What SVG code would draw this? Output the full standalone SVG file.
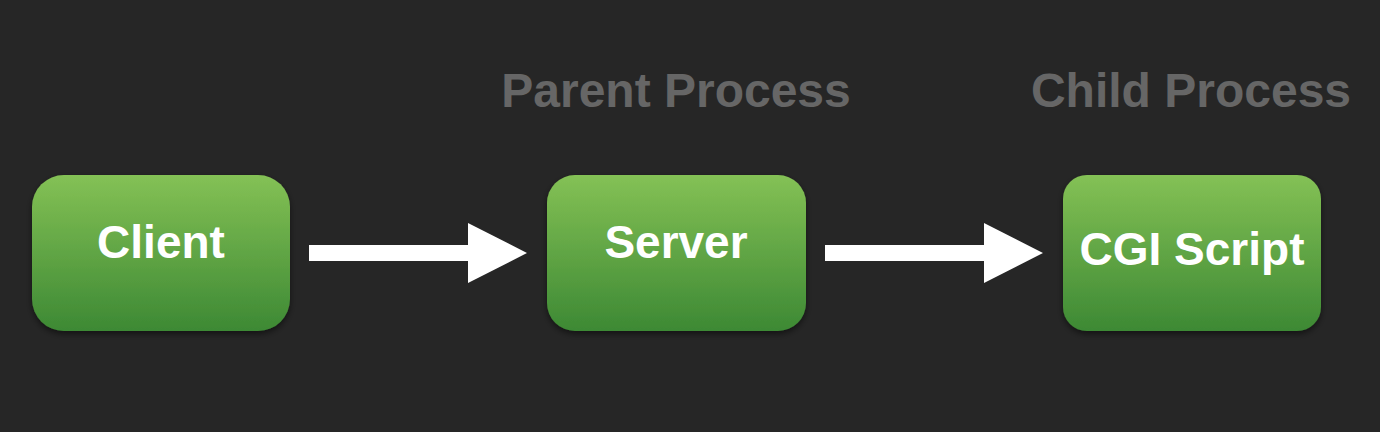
<svg xmlns="http://www.w3.org/2000/svg" width="1380" height="432" viewBox="0 0 1380 432">
  <defs>
    <linearGradient id="g" x1="0" y1="0" x2="0" y2="1">
      <stop offset="0" stop-color="#84c155"/>
      <stop offset="1" stop-color="#3d8934"/>
    </linearGradient>
    <filter id="sh" x="-10%" y="-10%" width="120%" height="130%">
      <feDropShadow dx="0" dy="3" stdDeviation="3" flood-color="#000" flood-opacity="0.5"/>
    </filter>
    <style>
      .box { fill: url(#g); filter: url(#sh); }
      .lbl { font-family: "Liberation Sans", Arial, sans-serif; font-weight: bold; font-size: 46px; fill: #ffffff; text-anchor: middle; }
      .hdr { font-family: "Liberation Sans", Arial, sans-serif; font-weight: bold; font-size: 48px; fill: #666666; text-anchor: middle; }
      .arr { fill: #ffffff; }
    </style>
  </defs>
  <rect width="1380" height="432" fill="#262626"/>
  <text class="hdr" x="676" y="107">Parent Process</text>
  <text class="hdr" x="1191" y="107">Child Process</text>
  <g id="client">
    <rect class="box" x="32" y="175" width="258" height="156" rx="32"/>
    <text class="lbl" x="161" y="258">Client</text>
  </g>
  <g id="server">
    <rect class="box" x="547" y="175" width="259" height="156" rx="28"/>
    <text class="lbl" x="676" y="258">Server</text>
  </g>
  <g id="cgi">
    <rect class="box" x="1063" y="175" width="258" height="156" rx="24"/>
    <text class="lbl" x="1192" y="265">CGI Script</text>
  </g>
  <g id="connectors">
    <polygon class="arr" points="309,245 468,245 468,223 527,253 468,283 468,261 309,261"/>
    <polygon class="arr" points="825,245 984,245 984,223 1043,253 984,283 984,261 825,261"/>
  </g>
</svg>
